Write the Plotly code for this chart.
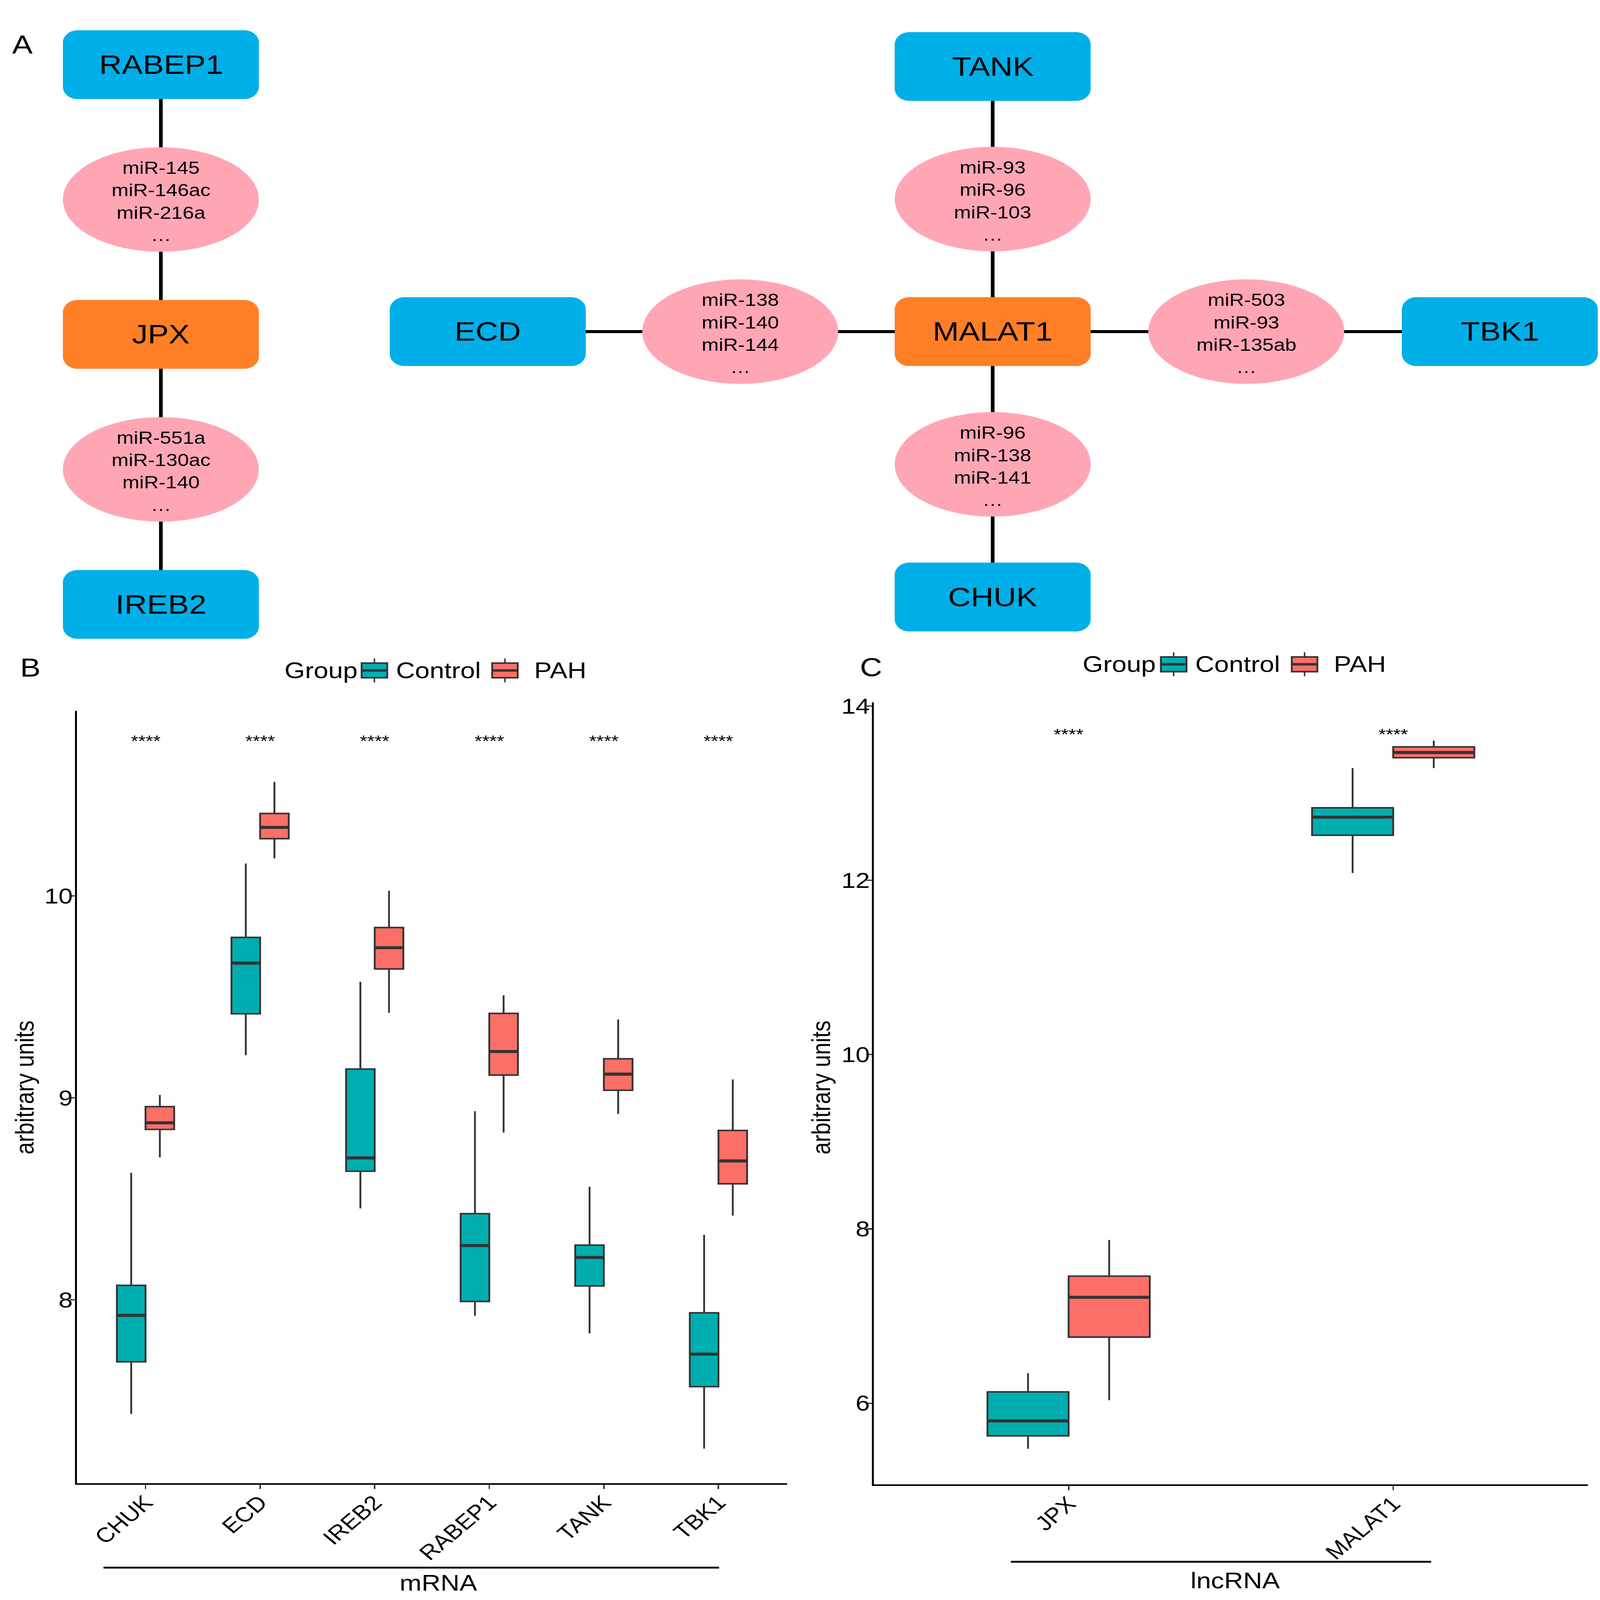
import plotly.graph_objects as go

W, H = 4376, 5236
FONT = "Liberation Sans, Arial, Helvetica, sans-serif"

# ---------------- Panel A: ceRNA network data ----------------
lnc_nodes = ["JPX", "MALAT1"]
mrna_nodes = ["RABEP1", "IREB2", "ECD", "TANK", "CHUK", "TBK1"]
edge_lnc = ["JPX", "JPX", "MALAT1", "MALAT1", "MALAT1", "MALAT1"]
edge_mrna = ["RABEP1", "IREB2", "ECD", "TANK", "CHUK", "TBK1"]
edge_mirs = [
    ["miR-145", "miR-146ac", "miR-216a", "…"],
    ["miR-551a", "miR-130ac", "miR-140", "…"],
    ["miR-138", "miR-140", "miR-144", "…"],
    ["miR-93", "miR-96", "miR-103", "…"],
    ["miR-96", "miR-138", "miR-141", "…"],
    ["miR-503", "miR-93", "miR-135ab", "…"],
]

# ---------------- Panel B: mRNA box statistics ----------------
mrna_genes = ["CHUK", "ECD", "IREB2", "RABEP1", "TANK", "TBK1"]
mrna_ctrl_low = [7.435, 9.212, 8.453, 7.921, 7.834, 7.263]
mrna_ctrl_q1 = [7.693, 9.417, 8.637, 7.992, 8.069, 7.570]
mrna_ctrl_med = [7.923, 9.668, 8.703, 8.269, 8.210, 7.731]
mrna_ctrl_q3 = [8.072, 9.795, 9.143, 8.427, 8.271, 7.936]
mrna_ctrl_high = [8.629, 10.161, 9.575, 8.934, 8.560, 8.322]
mrna_pah_low = [8.706, 10.187, 9.422, 8.829, 8.921, 8.417]
mrna_pah_q1 = [8.844, 10.284, 9.639, 9.113, 9.038, 8.575]
mrna_pah_med = [8.877, 10.340, 9.744, 9.230, 9.118, 8.688]
mrna_pah_q3 = [8.957, 10.409, 9.844, 9.419, 9.194, 8.839]
mrna_pah_high = [9.015, 10.565, 10.026, 9.509, 9.389, 9.092]
mrna_sig = ["****"] * 6
mrna_sig_y = 10.785
mrna_yticks = [8, 9, 10]

# ---------------- Panel C: lncRNA box statistics ----------------
lnc_genes = ["JPX", "MALAT1"]
lnc_ctrl_low = [5.477, 12.084]
lnc_ctrl_q1 = [5.625, 12.517]
lnc_ctrl_med = [5.797, 12.725]
lnc_ctrl_q3 = [6.130, 12.832]
lnc_ctrl_high = [6.343, 13.288]
lnc_pah_low = [6.034, 13.288]
lnc_pah_q1 = [6.758, 13.407]
lnc_pah_med = [7.215, 13.466]
lnc_pah_q3 = [7.458, 13.531]
lnc_pah_high = [7.873, 13.603]
lnc_sig = ["****"] * 2
lnc_sig_y = 13.715
lnc_yticks = [6, 8, 10, 12, 14]

groups = ["Control", "PAH"]

# ---------------- styling / layout constants ----------------
C_BLUE = "#00AFE8"
C_ORANGE = "#FF7F27"
C_PINK = "#FFA6B5"
C_CTRL = "#00AEAF"
C_PAH = "#FB6F66"
C_EDGE = "#333333"


def px(x):
    return x / W


def py(y):
    return 1 - y / H


# node centres (pixels) - layout only
node_pos = {
    "RABEP1": (440, 215), "JPX": (440, 1097), "IREB2": (440, 1980),
    "ECD": (1334, 1088), "MALAT1": (2715, 1088), "TANK": (2715, 221),
    "CHUK": (2715, 1956), "TBK1": (4102, 1088),
}
NODE_W, NODE_H, NODE_R = 536, 225, 40
ELL_RX, ELL_RY = 268, 171

shapes = []
annotations = []


def rounded_rect(cx, cy, w, h, r, color):
    x0, x1 = cx - w / 2, cx + w / 2
    y0, y1 = cy - h / 2, cy + h / 2
    k = 0.45
    pts = [
        f"M {px(x0 + r)},{py(y0)}",
        f"L {px(x1 - r)},{py(y0)}",
        f"C {px(x1 - r * k)},{py(y0)} {px(x1)},{py(y0 + r * k)} {px(x1)},{py(y0 + r)}",
        f"L {px(x1)},{py(y1 - r)}",
        f"C {px(x1)},{py(y1 - r * k)} {px(x1 - r * k)},{py(y1)} {px(x1 - r)},{py(y1)}",
        f"L {px(x0 + r)},{py(y1)}",
        f"C {px(x0 + r * k)},{py(y1)} {px(x0)},{py(y1 - r * k)} {px(x0)},{py(y1 - r)}",
        f"L {px(x0)},{py(y0 + r)}",
        f"C {px(x0)},{py(y0 + r * k)} {px(x0 + r * k)},{py(y0)} {px(x0 + r)},{py(y0)}",
        "Z",
    ]
    return dict(type="path", path=" ".join(pts), xref="paper", yref="paper",
                fillcolor=color, line=dict(width=0))


# edges
for a, b in zip(edge_lnc, edge_mrna):
    (xa, ya), (xb, yb) = node_pos[a], node_pos[b]
    shapes.append(dict(type="line", xref="paper", yref="paper",
                       x0=px(xa), y0=py(ya), x1=px(xb), y1=py(yb),
                       line=dict(color="black", width=10)))
# miRNA ellipses at edge midpoints
for a, b, mirs in zip(edge_lnc, edge_mrna, edge_mirs):
    (xa, ya), (xb, yb) = node_pos[a], node_pos[b]
    cx, cy = (xa + xb) / 2, (ya + yb) / 2
    shapes.append(dict(type="circle", xref="paper", yref="paper",
                       x0=px(cx - ELL_RX), x1=px(cx + ELL_RX),
                       y0=py(cy + ELL_RY), y1=py(cy - ELL_RY),
                       fillcolor=C_PINK, line=dict(width=0)))
    annotations.append(dict(x=px(cx), y=py(cy + 6), xref="paper", yref="paper",
                            text="<br>".join(mirs), showarrow=False,
                            xanchor="center", yanchor="middle",
                            font=dict(family=FONT, size=56, color="black")))
# gene nodes
for name in lnc_nodes + mrna_nodes:
    cx, cy = node_pos[name]
    col = C_ORANGE if name in lnc_nodes else C_BLUE
    shapes.append(rounded_rect(cx, cy, NODE_W, NODE_H, NODE_R, col))
    annotations.append(dict(x=px(cx), y=py(cy), xref="paper", yref="paper",
                            text=name, showarrow=False, xanchor="center",
                            yanchor="middle",
                            font=dict(family=FONT, size=86, color="black")))

# panel letters
for letter, (lx, ly) in {"A": (61, 149), "B": (83, 2187), "C": (2382, 2186)}.items():
    annotations.append(dict(x=px(lx), y=py(ly), xref="paper", yref="paper",
                            text=letter, showarrow=False, xanchor="center",
                            yanchor="middle",
                            font=dict(family=FONT, size=84, color="black")))

fig = go.Figure()

BOX_W = 0.25
LINE_W = 5
MED_W = 10


def add_panel(xa, ya, genes, ctrl, pah, sig, sig_y):
    n = len(genes)
    for (stats, col, off) in ((ctrl, C_CTRL, -BOX_W / 2), (pah, C_PAH, BOX_W / 2)):
        low, q1, med, q3, high = stats
        xs = [i + off for i in range(n)]
        fig.add_trace(go.Box(
            x=xs, q1=q1, median=med, q3=q3, lowerfence=low, upperfence=high,
            width=BOX_W, fillcolor=col, line=dict(color=C_EDGE, width=LINE_W),
            whiskerwidth=0, boxpoints=False, showlegend=False,
            hoverinfo="skip", xaxis=xa, yaxis=ya))
        mx, my = [], []
        for x, m in zip(xs, med):
            mx += [x - BOX_W / 2, x + BOX_W / 2, None]
            my += [m, m, None]
        fig.add_trace(go.Scatter(x=mx, y=my, mode="lines",
                                 line=dict(color=C_EDGE, width=MED_W),
                                 showlegend=False, hoverinfo="skip",
                                 xaxis=xa, yaxis=ya))
    for i, s in enumerate(sig):
        annotations.append(dict(x=i, y=sig_y, xref=xa, yref=ya, text=s,
                                showarrow=False, xanchor="center",
                                yanchor="middle",
                                font=dict(family=FONT, size=52, color="black")))


add_panel("x", "y", mrna_genes,
          (mrna_ctrl_low, mrna_ctrl_q1, mrna_ctrl_med, mrna_ctrl_q3, mrna_ctrl_high),
          (mrna_pah_low, mrna_pah_q1, mrna_pah_med, mrna_pah_q3, mrna_pah_high),
          mrna_sig, mrna_sig_y - 0.017)
add_panel("x2", "y2", lnc_genes,
          (lnc_ctrl_low, lnc_ctrl_q1, lnc_ctrl_med, lnc_ctrl_q3, lnc_ctrl_high),
          (lnc_pah_low, lnc_pah_q1, lnc_pah_med, lnc_pah_q3, lnc_pah_high),
          lnc_sig, lnc_sig_y - 0.04)

# manual ggplot-style legends
legend_specs = [
    dict(cy=2196, keys=(1024, 1381), group_right=980),
    dict(cy=2176, keys=(3210, 3568), group_right=3163),
]
KEY_W, BOX_HH, WHISK_HH = 70, 24, 39
for spec in legend_specs:
    cy = spec["cy"]
    annotations.append(dict(x=px(spec["group_right"]), y=py(cy), xref="paper",
                            yref="paper", text="Group", showarrow=False,
                            xanchor="right", yanchor="middle",
                            font=dict(family=FONT, size=72, color="black")))
    for kx, g, col, gap in zip(spec["keys"], groups, (C_CTRL, C_PAH), (22, 43)):
        shapes.append(dict(type="line", xref="paper", yref="paper",
                           x0=px(kx), x1=px(kx), y0=py(cy - WHISK_HH), y1=py(cy + WHISK_HH),
                           line=dict(color=C_EDGE, width=4)))
        shapes.append(dict(type="rect", xref="paper", yref="paper",
                           x0=px(kx - KEY_W / 2), x1=px(kx + KEY_W / 2),
                           y0=py(cy - BOX_HH), y1=py(cy + BOX_HH),
                           fillcolor=col, line=dict(color=C_EDGE, width=5)))
        shapes.append(dict(type="line", xref="paper", yref="paper",
                           x0=px(kx - KEY_W / 2), x1=px(kx + KEY_W / 2),
                           y0=py(cy), y1=py(cy), line=dict(color=C_EDGE, width=8)))
        annotations.append(dict(x=px(kx + KEY_W / 2 + gap), y=py(cy), xref="paper",
                                yref="paper", text=g, showarrow=False,
                                xanchor="left", yanchor="middle",
                                font=dict(family=FONT, size=72, color="black")))

# y axis titles
for tx, ty in ((67, 3560), (2245, 3560)):
    annotations.append(dict(x=px(tx), y=py(ty), xref="paper", yref="paper",
                            text="arbitrary units", textangle=-90, showarrow=False,
                            xanchor="center", yanchor="middle",
                            font=dict(family=FONT, size=72, color="black")))

# group brackets under x labels
for xa, x0, x1, yb, label, lx, ly in (
        ("x", -0.367, 5.006, 5130, "mRNA", 1199, 5181),
        ("x2", -0.178, 1.117, 5111, "lncRNA", 3378, 5173)):
    shapes.append(dict(type="line", xref=xa, yref="paper", x0=x0, x1=x1,
                       y0=py(yb), y1=py(yb), line=dict(color="black", width=6)))
    annotations.append(dict(x=px(lx), y=py(ly), xref="paper", yref="paper",
                            text=label, showarrow=False, xanchor="center",
                            yanchor="middle",
                            font=dict(family=FONT, size=72, color="black")))

axis_common = dict(showgrid=False, zeroline=False, showline=True,
                   linecolor="black", linewidth=5, ticks="outside",
                   ticklen=14, tickwidth=4, tickcolor=C_EDGE)
x_extra = dict(tickangle=-45, ticklabelstandoff=-22,
               tickfont=dict(family=FONT, size=67, color="black"))
y_extra = dict(ticklabelstandoff=-22,
               tickfont=dict(family=FONT, size=70, color="black"))

fig.update_layout(
    width=W, height=H,
    margin=dict(l=0, r=0, t=0, b=0),
    paper_bgcolor="white", plot_bgcolor="white",
    showlegend=False,
    shapes=shapes, annotations=annotations,
    xaxis=dict(domain=[210 / W, 2153 / W], range=[-0.6, 5.6], anchor="y",
               tickmode="array", tickvals=list(range(len(mrna_genes))),
               ticktext=mrna_genes, **x_extra, **axis_common),
    yaxis=dict(domain=[py(4854), py(2329)], range=[7.092, 10.916], anchor="x",
               tickmode="array", tickvals=mrna_yticks,
               ticktext=[str(v) for v in mrna_yticks], **y_extra, **axis_common),
    xaxis2=dict(domain=[2390 / W, 4343 / W], range=[-0.6, 1.6], anchor="y2",
                tickmode="array", tickvals=list(range(len(lnc_genes))),
                ticktext=lnc_genes, **x_extra, **axis_common),
    yaxis2=dict(domain=[py(4858), py(2301)], range=[5.068, 14.04], anchor="x2",
                tickmode="array", tickvals=lnc_yticks,
                ticktext=[str(v) for v in lnc_yticks], **y_extra, **axis_common),
)

# Pin the figure to the page's top-left corner and, if the browser viewport is
# smaller than the figure, scale it so that it fits the window (no-op at full size).
post = """
var gd = document.getElementById('{plot_id}');
document.documentElement.style.margin = '0';
document.documentElement.style.overflow = 'hidden';
document.body.style.margin = '0';
document.body.style.overflow = 'hidden';
gd.style.position = 'absolute';
gd.style.left = '0px';
gd.style.top = '0px';
var FW = %d, FH = %d;
var iw = window.innerWidth, ih = window.innerHeight;
if (iw < FW || ih < FH) {
  var hdr = (ih < FH) ? 24 : 0;
  var sx = Math.min(1, iw / FW), sy = Math.min(1, (ih + hdr) / FH);
  gd.style.transformOrigin = '0 0';
  gd.style.transform = 'translate(0px,' + (-hdr) + 'px) scale(' + sx + ',' + sy + ')';
}
""" % (W, H)

fig.write_html("out.html", post_script=post, config={"displayModeBar": False})
